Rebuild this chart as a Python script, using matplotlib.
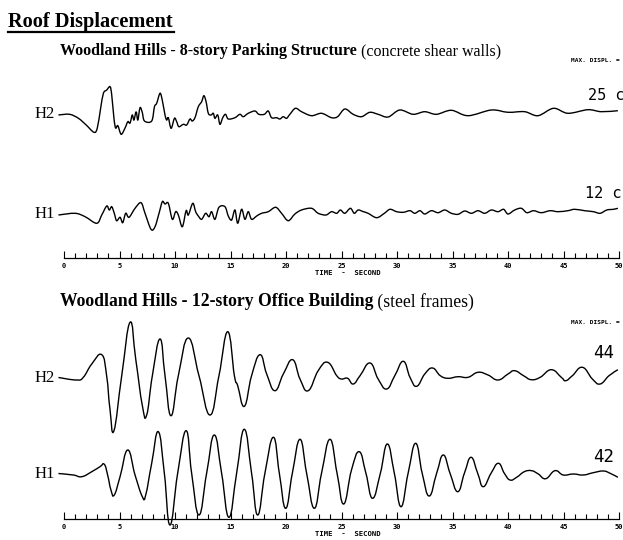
import numpy as np
import matplotlib
matplotlib.use('Agg')
import matplotlib.pyplot as plt
from matplotlib.path import Path
from matplotlib.patches import PathPatch

# (time s, displacement); displacement in trace px units
PARK_H2 = [(-0.5, -1), (0.5, -0.3), (1.3, -4.3), (2.0, -11), (2.7, -18.3), (3.0, -14), (3.3, 5.7),
           (3.55, 20.7), (3.85, 24), (4.15, 27.3), (4.3, 19), (4.5, -4.3), (4.65, -14), (4.85, -11.7),
           (5.15, -20.3), (5.5, -14), (5.75, -7.7), (5.95, -9), (6.15, -1), (6.3, -6), (6.5, 2.3),
           (6.65, -6), (6.85, 6.3), (7.05, 1.7), (7.25, -7), (7.9, -7), (8.15, 7.3), (8.35, 10.7),
           (8.65, 20.7), (8.85, 14), (9.1, -1), (9.25, -6), (9.4, -3.7), (9.65, -14.3), (9.95, -4.3),
           (10.15, -7.7), (10.35, -12.7), (10.75, -10.3), (11.05, -11), (11.35, -5), (11.55, -7),
           (11.8, -3.7), (12.1, 7.3), (12.4, 12.3), (12.6, 18.3), (12.8, 12.3), (13.0, 0.7),
           (13.25, -1), (13.45, 0.7), (13.6, -4.3), (13.85, -1), (14.05, -10.3), (14.3, -3.7),
           (14.55, -0.3), (14.8, -5), (15.4, -3.7), (15.85, -0.3), (16.15, -2.7), (16.6, 0.7),
           (17.2, 3), (17.55, -0.3), (18.05, -0.3), (18.4, 3), (18.7, -3.7), (19.15, -3.7),
           (19.45, -5), (19.75, -2.7), (20.05, -4.3), (20.35, -0.3), (20.85, 5.7), (21.4, 2.3),
           (22.3, -1.7), (23.2, 0.7), (24.1, -3.7), (24.65, -2.7), (25.3, 5), (26.05, -0.3),
           (26.8, -2.7), (27.55, 1.7), (28.3, -0.3), (29.2, -3), (30.25, 4), (31.45, -0.3),
           (32.5, 2.3), (33.55, -0.3), (34.9, 3.7), (36.4, -1.7), (38.5, 4), (40.0, 1.7),
           (41.5, 2.3), (42.7, -1.7), (44.1, 5.7), (45.4, 0.7), (47.2, 4.3), (48.4, 2.3), (49.9, 3.3)]

PARK_H1 = [(-0.5, -1), (1.0, 0.7), (1.9, -2.7), (2.95, -9.3), (3.4, -1), (3.85, 8), (4.08, 4),
           (4.3, 7.3), (4.53, 0.7), (4.74, -6.7), (5.05, -3.3), (5.29, -8.7), (5.56, 0.7),
           (5.86, -3.3), (6.4, 5.7), (6.94, 11.3), (7.3, 0.7), (7.84, -15.3), (8.2, -12.7),
           (8.56, 0.7), (8.86, 12.3), (9.1, 10), (9.4, 10.7), (9.76, -5.3), (10.06, 2.3),
           (10.3, -1), (10.66, -12.7), (11.0, 3.3), (11.2, -1), (11.6, 10.7), (11.86, 2.3),
           (12.1, -2), (12.4, -5.3), (12.76, 0.7), (13.06, -2.7), (13.3, 2.3), (13.6, -5.3),
           (13.96, 6.7), (14.5, 7.3), (14.8, -2), (15.1, -6), (15.4, 4), (15.65, -9.3), (16.0, 4.7),
           (16.3, -5.3), (16.6, 2.3), (16.9, -5.3), (17.36, -2), (17.8, 0.7), (18.4, 2.3),
           (19.07, 6.7), (19.6, 0.7), (20.2, -6.7), (20.8, 0), (21.4, 4), (22.3, 5.7), (22.9, 0.7),
           (23.6, -1), (24.1, 2.3), (24.57, 0.7), (24.9, 4), (25.3, 0.7), (25.8, 5.7), (26.15, 0.7),
           (26.5, 4), (26.97, 2.3), (27.4, 0.7), (28.17, -3.7), (28.86, 0.7), (29.37, 4.7),
           (29.97, 2.3), (30.57, 1.7), (31.17, 3.3), (31.6, 0.7), (32.07, 3.3), (32.5, 0),
           (33.1, 3.3), (33.7, 1.3), (34.3, 4), (34.9, 0.7), (35.5, -0.3), (36.1, 3), (36.7, 0.7),
           (37.3, 3.3), (37.9, 0.7), (38.5, 4), (39.1, 2.3), (39.6, 4.7), (40.0, 0), (40.6, 4),
           (41.2, 5.7), (41.7, 1.3), (42.3, 3.3), (43.0, 1.3), (43.8, 3.3), (44.5, 2.3), (45.4, 3.3),
           (46.0, 4.7), (46.9, 3.3), (47.7, 2.3), (48.3, 0.7), (48.9, 4), (49.5, 4.7), (49.9, 5.7)]

OFFICE_H2 = [(-0.5, 0.5), (1.14, -2), (1.74, 0.7), (2.5, 14), (3.4, 23.3), (3.84, 2.3), (4.14, -31),
             (4.5, -52.7), (5.2, 2.3), (5.95, 55.7), (6.46, 19), (7.06, -27.7), (7.45, -37),
             (7.96, 2.3), (8.65, 39), (9.1, 2.3), (9.64, -37.7), (10.3, 2.3), (11.2, 40),
             (12.16, 2.3), (13.15, -37), (13.96, 2.3), (14.75, 46.3), (15.35, 2.3), (15.65, -7.7),
             (16.25, -28.3), (16.9, 2.3), (17.66, 23.3), (18.26, 4), (19.0, -12.7), (19.76, 4),
             (20.6, 18.3), (21.26, -1), (22.0, -12.7), (22.9, 7.3), (23.75, 15.7), (24.57, 2.3),
             (25.0, -1), (25.55, -0.3), (26.06, -6), (26.67, 2.3), (27.57, 15), (28.3, -1),
             (29.07, -11), (29.8, 2.3), (30.57, 16.7), (31.17, 0.7), (31.77, -8.3), (32.5, 4),
             (33.2, 10), (33.9, 2.3), (34.6, -0.3), (35.5, 1.3), (36.4, 0.7), (37.3, 5.7),
             (38.2, 3), (39.1, -2), (40.0, 4), (40.6, 7.3), (41.4, 2.3), (42.1, -1.7), (42.9, 0.7),
             (43.9, 8.3), (44.8, 0.7), (45.2, -2.7), (45.8, 2.3), (46.7, 10.7), (47.6, -1),
             (48.3, -6), (49.1, 2.3), (49.9, 8.3)]

OFFICE_H1 = [(-0.5, 0.5), (0.84, -1), (1.6, -2.7), (2.5, 2.3), (3.24, 7.3), (3.63, 9.7), (3.93, -1),
             (4.23, -16), (4.53, -21), (5.05, -2.7), (5.74, 24), (6.4, -1), (7.06, -22.7),
             (7.36, -21), (7.9, 10.7), (8.5, 42.3), (9.04, 0.7), (9.55, -51), (10.24, 0.7),
             (11.0, 43.3), (11.5, 0.7), (12.16, -41), (12.85, 0.7), (13.54, 39), (14.2, 0.7),
             (14.86, -43.3), (15.55, 0.7), (16.24, 44.7), (16.9, 0.7), (17.45, -41), (18.1, 0.7),
             (18.86, 36.7), (19.4, 0.7), (19.97, -34.3), (20.57, 0.7), (21.26, 34.7), (21.86, 0.7),
             (22.55, -34.3), (23.2, 0.7), (23.96, 34.7), (24.6, 0.7), (25.2, -30), (25.9, 4),
             (26.6, 22.3), (27.2, 0.7), (27.8, -24.3), (28.5, 0.7), (29.13, 30), (29.76, 0.7),
             (30.36, -32.7), (31.0, 0.7), (31.68, 30.7), (32.27, 0.7), (32.9, -22), (33.57, 0.7),
             (34.17, 19), (34.78, 0.7), (35.47, -17.7), (36.07, 0.7), (36.67, 16.7), (37.27, 0.7),
             (37.77, -12.7), (38.47, 0.7), (39.13, 10.7), (39.67, 0.7), (40.18, -6), (40.78, -3.3),
             (41.47, 2.3), (42.13, 3.3), (42.73, 0), (43.4, -4.7), (44.23, 3.3), (44.98, -1),
             (45.88, 0), (46.78, -1), (47.68, 1.3), (48.58, 3), (49.2, 0.7), (49.9, -3.3)]

TICK_LABELS = ['0', '5', '10', '15', '20', '25', '30', '35', '40', '45', '50']
MAX_DISPL = ['25 c', '12 c', '44', '42']

W, H = 623, 540
T0_PX, PX_PER_S = 64, 11.1
SERIF = 'Liberation Serif'
MONO = 'DejaVu Sans Mono'


def smooth_path(pts, base, tension=1.0):
    # catmull-rom through the read points, drawn as bezier segments
    t = np.array([p[0] for p in pts], float)
    y = base - np.array([p[1] for p in pts], float)
    tp = np.r_[t[0], t, t[-1]]
    yp = np.r_[y[0], y, y[-1]]
    verts = [(t[0], y[0])]
    codes = [Path.MOVETO]
    k = tension / 6
    for i in range(len(t) - 1):
        p0 = np.array([tp[i], yp[i]])
        p1 = np.array([tp[i + 1], yp[i + 1]])
        p2 = np.array([tp[i + 2], yp[i + 2]])
        p3 = np.array([tp[i + 3], yp[i + 3]])
        verts += [tuple(p1 + (p2 - p0) * k), tuple(p2 - (p3 - p1) * k), tuple(p2)]
        codes += [Path.CURVE4] * 3
    return Path(verts, codes)


def ftext(x, y, s, **kw):
    return fig.text(x / W, 1 - y / H, s, **kw)


fig = plt.figure(figsize=(W / 100, H / 100), dpi=100)
ax = fig.add_axes([0, 0, 1, 1])
ax.set_xlim(-T0_PX / PX_PER_S, (W - T0_PX) / PX_PER_S)
ax.set_ylim(H, 0)
ax.axis('off')

traces = [(PARK_H2, 114, 'H2', 1.0), (PARK_H1, 214, 'H1', 1.0),
          (OFFICE_H2, 378, 'H2', 1.35), (OFFICE_H1, 474, 'H1', 1.35)]
for pts, base, name, tens in traces:
    ax.add_patch(PathPatch(smooth_path(pts, base, tens), fill=False, lw=1.0, ec='black'))
    ftext(55, base, name, family=SERIF, fontsize=12, ha='right', va='center')

# time axes
for ybar in [258, 519]:
    ax.plot([0, 50], [ybar, ybar], color='black', lw=0.9)
    secs = np.arange(0, 51)
    ax.vlines(secs, ybar, ybar - np.where(secs % 5 == 0, 7, 5), color='black', lw=0.8)
    for i, lab in enumerate(TICK_LABELS):
        ax.text(i * 5, ybar + 8, lab, fontsize=5, family=MONO, weight='bold',
                ha='center', va='center')
    ax.text(25.6, ybar + 15, 'TIME  -  SECOND', fontsize=5.2, family=MONO, weight='bold',
            ha='center', va='center')

# titles
ftext(8, 22, 'Roof Displacement', family=SERIF, weight='bold', fontsize=14.7, va='center')
fig.add_artist(plt.Line2D([8 / W, 174 / W], [1 - 32 / H, 1 - 32 / H], color='black', lw=1.6))

t1 = ftext(60, 51, 'Woodland Hills - 8-story Parking Structure', family=SERIF,
           weight='bold', fontsize=11.5, va='center')
ax.annotate(' (concrete shear walls)', xy=(1, 0.5), xycoords=t1, va='center',
            family=SERIF, fontsize=11.5)
t2 = ftext(60, 302, 'Woodland Hills - 12-story Office Building', family=SERIF,
           weight='bold', fontsize=12.7, va='center')
ax.annotate(' (steel frames)', xy=(1, 0.5), xycoords=t2, va='center',
            family=SERIF, fontsize=12.7)

for y in [61, 323]:
    ftext(571, y, 'MAX. DISPL. =', family=MONO, weight='bold', fontsize=4.4, va='center')

for (x, y, fs), lab in zip([(588, 95, 11), (585, 193, 11), (593, 353, 12.5), (593, 457, 12.5)],
                           MAX_DISPL):
    ftext(x, y, lab, family=MONO, fontsize=fs, va='center')

plt.savefig('out.png', dpi=100)
